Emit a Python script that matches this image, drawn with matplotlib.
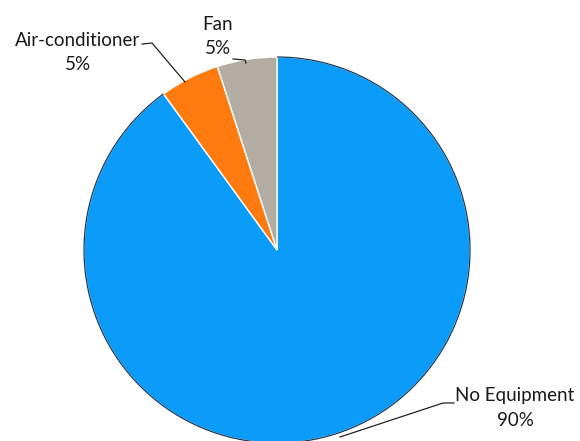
# pie chart of equipment usage
import matplotlib.pyplot as plt
from matplotlib.patches import Arc

labels = ['No Equipment', 'Air-conditioner', 'Fan']
shares = [90, 5, 5]
colors = ['#0A9CF8', '#FF7B0F', '#B2ACA3']

W, H = 580, 441
fig = plt.figure(figsize=(W/100, H/100), dpi=100)
ax = fig.add_axes([0, 0, 1, 1])

cx, cy, r = 277, H - 250, 193
wedges, _ = ax.pie(shares, colors=colors, startangle=90, counterclock=False,
                   center=(cx, cy), radius=r, frame=True,
                   wedgeprops=dict(edgecolor='white', linewidth=1))
ax.set_xlim(0, W)
ax.set_ylim(0, H)
ax.axis('off')

# dark rim on the big slice
ax.add_patch(Arc((cx, cy), 2*r, 2*r, theta1=126, theta2=450, color='#1a3a5a', lw=0.9))

font = dict(family=['Lato', 'DejaVu Sans'], fontsize=13.5, color='#1a1a1a', ha='center', va='center')

def label(x, y, name, pct, line):
    ax.text(x, H - y, name, **font)
    ax.text(x, H - y - 24, pct, **font)
    ax.plot([p[0] for p in line], [H - p[1] for p in line], color='#222222', lw=0.9)

label(78, 41, labels[1], '%d%%' % shares[1], [(142, 44), (152, 43), (185, 82)])
label(218, 24, labels[2], '%d%%' % shares[2], [(233, 59), (245, 60), (246, 63)])
label(515, 396, labels[0], '%d%%' % shares[0], [(454, 403), (443, 403), (340, 437)])

plt.savefig('out.png', dpi=100)
plt.close()
